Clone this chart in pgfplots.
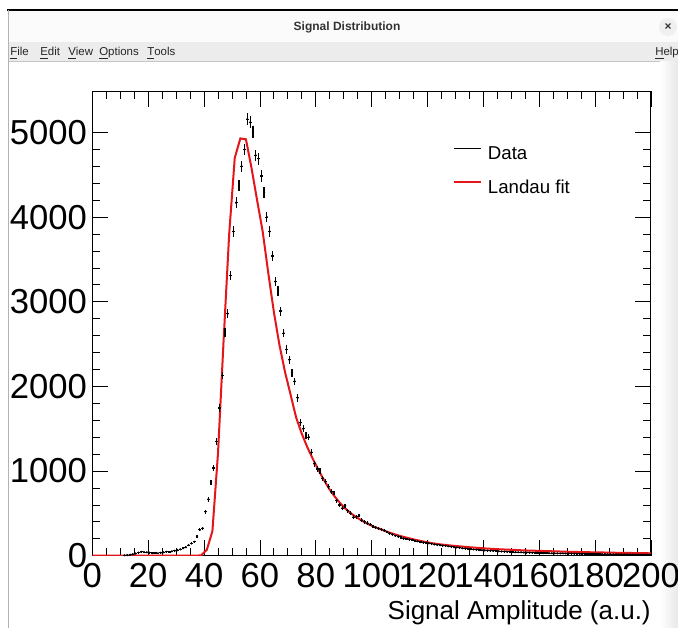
\documentclass[border=0pt]{standalone}
\usepackage{pgfplots}
\pgfplotsset{compat=1.18}
\usepackage{pgfplotstable}
\usepackage{fontspec}
\setmainfont{Liberation Sans}
\definecolor{rootred}{RGB}{228,22,26}
\definecolor{menubg}{RGB}{236,236,236}
\pgfplotstableread{
x y
11.5 4
12.5 7
13.5 12
14.5 18
15.5 26
16.5 36
17.5 45
18.5 42
19.5 40
20.5 36
21.5 31
22.5 33
23.5 29
24.5 35
25.5 40
26.5 46
27.5 43
28.5 52
29.5 58
30.5 66
31.5 75
32.5 88
33.5 100
34.5 125
35.5 145
36.5 165
37.5 225
38.5 305
39.5 325
40.5 520
41.5 665
42.5 870
43.5 1035
44.5 1350
45.5 1745
46.5 2130
47.5 2640
48.5 2860
49.5 3310
50.5 3830
51.5 4170
52.5 4370
53.5 4600
54.5 4800
55.5 5157
56.5 5120
57.5 5005
58.5 4730
59.5 4690
60.5 4485
61.5 4290
62.5 4000
63.5 3830
64.5 3540
65.5 3240
66.5 3130
67.5 2890
68.5 2630
69.5 2435
70.5 2315
71.5 2160
72.5 2060
73.5 1865
74.5 1570
75.5 1500
76.5 1420
77.5 1400
78.5 1220
79.5 1085
80.5 1025
81.5 1000
82.5 915
83.5 875
84.5 815
85.5 755
86.5 740
87.5 650
88.5 600
89.5 560
90.5 590
91.5 530
92.5 500
93.5 455
94.5 460
95.5 475
96.5 420
97.5 400
98.5 385
99.5 365
100.5 345
101.5 335
102.5 322
103.5 310
104.5 296
105.5 280
106.5 264
107.5 250
108.5 234
109.5 225
110.5 213
111.5 205
112.5 198
113.5 190
114.5 185
115.5 177
116.5 170
117.5 161
118.5 156
119.5 150
120.5 146
121.5 140
122.5 134
123.5 128
124.5 124
125.5 120
126.5 116
127.5 112
128.5 106
129.5 101
130.5 97
131.5 94
132.5 89
133.5 85
134.5 81
135.5 78
136.5 74
137.5 71
138.5 68
139.5 65
140.5 63
141.5 60
142.5 58
143.5 57
144.5 55
145.5 52
146.5 50
147.5 49
148.5 46
149.5 45
150.5 44
151.5 42
152.5 41
153.5 40
154.5 38
155.5 37
156.5 36
157.5 35
158.5 34
159.5 33
160.5 32
161.5 31
162.5 31
163.5 30
164.5 29
165.5 28
166.5 28
167.5 27
168.5 27
169.5 26
170.5 25
171.5 24
172.5 24
173.5 23
174.5 22
175.5 22
176.5 21
177.5 21
178.5 20
179.5 20
180.5 19
181.5 19
182.5 18
183.5 18
184.5 17
185.5 17
186.5 16
187.5 16
188.5 15
189.5 15
190.5 14
191.5 14
192.5 13
193.5 13
194.5 12
195.5 12
196.5 12
197.5 11
198.5 11
199.5 10
}\datatable
\pgfplotstableread{
x y
0 0
37 0
39 5
41 70
43 290
45 1210
47 2540
49 3800
51 4700
53 4930
55 4920
57 4580
59 4200
61 3830
63 3340
65 2880
67 2490
69 2170
71 1900
73 1630
75 1440
77 1280
79 1140
81 1010
83 890
85 780
87 690
89 610
91 545
93 490
95 445
97 405
99 370
101 340
103 316
105 290
107 266
109 245
111 226
113 209
115 193
117 178
119 164
121 151
123 141
125 132
127 125
129 118
131 112
133 106
135 100
137 95
139 90
141 85
143 81
145 77
147 74
149 71
151 68
153 65
155 62
157 60
159 58
161 56
163 54
165 52
167 50
169 48
171 46
173 45
175 43
177 42
179 40
181 39
183 38
185 36
187 35
189 34
191 33
193 32
195 31
197 30
199 29
200 28
}\fittable
\begin{document}
\begin{tikzpicture}[x=0.75pt,y=0.75pt]
\path[use as bounding box] (0,0) rectangle (678,628);
\fill[white] (0,0) rectangle (678,628);
% title bar
\fill[gray!3] (8,586) rectangle (678,617);
\draw[black, line width=1.5pt] (7,618) -- (678,618);
\node[font=\bfseries\fontsize{9}{10}\selectfont, text=black!80] at (347,601) {Signal Distribution};
\fill[gray!12] (668,601) circle (9);
\node[font=\bfseries\fontsize{9}{10}\selectfont, text=black!80] at (668,601) {×};
% menu bar
\fill[menubg] (8,567) rectangle (678,586);
\draw[gray!45, line width=0.75pt] (8,566.5) -- (678,566.5);
\begin{scope}[every node/.style={font=\fontsize{8.6}{10}\selectfont, text=black!85, anchor=base west, inner sep=0pt}]
\node at (10,572) {\underline{F}ile};
\node at (40,572) {\underline{E}dit};
\node at (68,572) {\underline{V}iew};
\node at (99,572) {\underline{O}ptions};
\node at (147,572) {\underline{T}ools};
\node at (655,572) {\underline{H}elp};
\end{scope}
% right gradient area
\shade[left color=white, right color=gray!18] (660,0) rectangle (678,566);
% left window border
\draw[gray!60, line width=1pt] (8.5,0) -- (8.5,618);
\begin{axis}[
  at={(69.225pt,54.225pt)}, anchor=south west,
  scale only axis, width=419pt, height=348.5pt,
  xmin=0, xmax=200, ymin=0, ymax=5490,
  xtick={0,20,...,200}, ytick={0,1000,...,5000},
  minor x tick num=3, minor y tick num=4,
  major tick length=12pt, minor tick length=6pt,
  tick style={black, line width=0.6pt},
  axis line style={black, line width=0.75pt},
  tick align=inside,
  /pgf/number format/assume math mode=true,
  /pgf/number format/1000 sep={},
  ticklabel style={font=\fontsize{26}{28}\selectfont},
  yticklabel style={anchor=east, inner sep=0pt, xshift=-3.75pt},
  xticklabel style={anchor=north, inner sep=0pt, yshift=-5.5pt},
  xlabel={Signal Amplitude (a.u.)},
  xlabel style={at={(axis description cs:1,0)}, anchor=base east, inner sep=0pt, yshift=-48.2pt, font=\fontsize{19.5}{22}\selectfont},
  legend style={draw=none, fill=none, inner sep=0pt, at={(axis cs:129.0,4839)}, anchor=north west,
    font=\fontsize{14}{16}\selectfont, row sep=12.5pt, column sep=4.5pt,
    nodes={inner sep=0pt, text height=10pt, text depth=3pt}},
  legend cell align=left,
  legend image code/.code={\draw[#1] (0pt,5pt) -- (20.25pt,5pt);},
]
\addplot[rootred, line width=1.5pt, forget plot] table[x=x, y=y] {\fittable};
\addplot[black, only marks, mark=*, mark size=0.6pt, forget plot,
  error bars/.cd, x dir=both, x fixed=0.5, y dir=both, y explicit, error mark=none,
  error bar style={black, line width=0.9pt}]
  table[x=x, y=y, y error expr={sqrt(\thisrow{y})}] {\datatable};
\addlegendimage{black, line width=1.1pt}
\addlegendentry{Data}
\addlegendimage{rootred, line width=1.5pt}
\addlegendentry{Landau fit}
\end{axis}
\end{tikzpicture}
\end{document}
